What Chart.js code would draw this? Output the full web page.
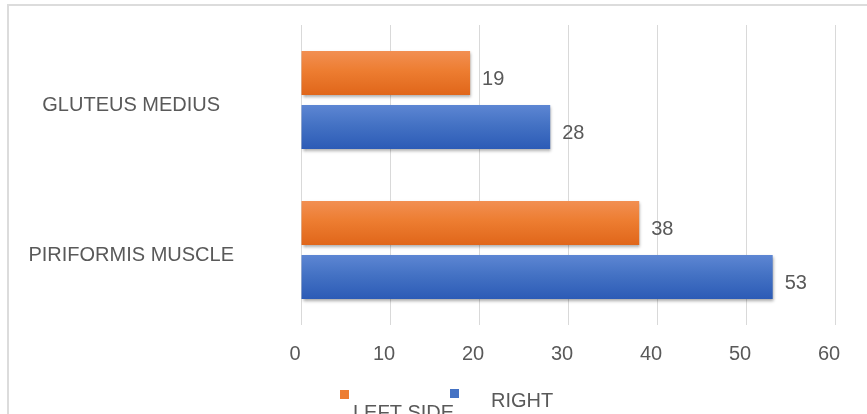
<!DOCTYPE html>
<html>
<head>
<meta charset="utf-8">
<title>Muscle chart</title>
<script src="https://cdn.jsdelivr.net/npm/chart.js@4/dist/chart.umd.min.js"></script>
<style>
    html, body { margin: 0; padding: 0; background: #fff; overflow: hidden; }
    #wrap { position: relative; width: 867px; height: 414px; }
</style>
</head>
<body>
<div id="wrap"><canvas id="muscleChart"></canvas></div>
<script>
const categories = ['GLUTEUS MEDIUS', 'PIRIFORMIS MUSCLE'];
const leftSide = [19, 38];
const rightSide = [28, 53];
const xTicks = [0, 10, 20, 30, 40, 50, 60];

const textColor = '#595959';
const fontFamily = '"Liberation Sans", Arial, sans-serif';

// top / bottom shades for the bar gradients
const shades = [
    ['#f28f52', '#e0661a'], // orange
    ['#5d86d3', '#2c5bb6']  // blue
];

// gradient fill + soft shadow on the bars
const barLook = {
    id: 'barLook',
    beforeDatasetDraw(chart, args) {
        const ctx = chart.ctx;
        const meta = args.meta;
        const base = meta.controller.getDataset().backgroundColor;
        meta.data.forEach(function (bar) {
            const top = bar.y - bar.height / 2;
            const g = ctx.createLinearGradient(0, top, 0, top + bar.height);
            g.addColorStop(0, shades[args.index][0]);
            g.addColorStop(0.45, base);
            g.addColorStop(1, shades[args.index][1]);
            // options can be shared between bars, so give each its own copy
            bar.options = Object.assign({}, bar.options, { backgroundColor: g });
        });
        ctx.save();
        ctx.shadowColor = 'rgba(0,0,0,0.35)';
        ctx.shadowBlur = 3;
        ctx.shadowOffsetX = 1;
        ctx.shadowOffsetY = 2;
    },
    afterDatasetDraw(chart) {
        chart.ctx.restore();
    }
};

// value labels at the end of each bar
const valueLabels = {
    id: 'valueLabels',
    afterDatasetsDraw(chart) {
        const ctx = chart.ctx;
        ctx.save();
        ctx.font = '20px ' + fontFamily;
        ctx.fillStyle = textColor;
        ctx.textAlign = 'left';
        ctx.textBaseline = 'middle';
        chart.data.datasets.forEach(function (ds, i) {
            chart.getDatasetMeta(i).data.forEach(function (bar, j) {
                ctx.fillText(String(ds.data[j]), bar.x + 12, bar.y + 6);
            });
        });
        ctx.restore();
    }
};

// frame lines and the legend under the axis
const frameAndLegend = {
    id: 'frameAndLegend',
    beforeDraw(chart) {
        const ctx = chart.ctx;
        ctx.save();
        ctx.fillStyle = '#dcdcdc';
        ctx.fillRect(7, 4, 2, chart.height);
        ctx.fillRect(7, 4, chart.width, 2);
        ctx.restore();
    },
    afterDraw(chart) {
        const ctx = chart.ctx;
        const ds = chart.data.datasets;
        ctx.save();
        ctx.font = '20px ' + fontFamily;
        ctx.textBaseline = 'middle';
        ctx.textAlign = 'left';

        ctx.fillStyle = ds[0].backgroundColor;
        ctx.fillRect(340, 390, 9, 9);
        ctx.fillStyle = textColor;
        ctx.fillText(ds[0].label, 353, 413);

        ctx.fillStyle = ds[1].backgroundColor;
        ctx.fillRect(450, 389, 9, 9);
        ctx.fillStyle = textColor;
        ctx.fillText(ds[1].label, 491, 401);
        ctx.restore();
    }
};

const ctx = document.getElementById('muscleChart').getContext('2d');

new Chart(ctx, {
    type: 'bar',
    data: {
        labels: categories,
        datasets: [
            {
                label: 'LEFT SIDE',
                data: leftSide,
                backgroundColor: '#ed7d31',
                barPercentage: 0.813,
                categoryPercentage: 0.72
            },
            {
                label: 'RIGHT',
                data: rightSide,
                backgroundColor: '#4472c4',
                barPercentage: 0.813,
                categoryPercentage: 0.72
            }
        ]
    },
    options: {
        indexAxis: 'y',
        responsive: true,
        maintainAspectRatio: false,
        animation: false,
        layout: {
            padding: { top: 25, right: 32, bottom: 31, left: 11 }
        },
        plugins: {
            legend: { display: false },
            tooltip: { enabled: false }
        },
        scales: {
            x: {
                min: xTicks[0],
                max: xTicks[xTicks.length - 1],
                afterBuildTicks(scale) {
                    scale.ticks = xTicks.map(v => ({ value: v }));
                },
                grid: {
                    color: '#d9d9d9',
                    lineWidth: 1,
                    drawTicks: false
                },
                border: { display: false },
                ticks: {
                    color: textColor,
                    font: { family: fontFamily, size: 20 },
                    padding: 17,
                    labelOffset: -6,
                    maxRotation: 0
                }
            },
            y: {
                afterFit(scale) {
                    scale.width = 290;
                },
                // invisible tick marks push the centred labels away from the bars
                grid: {
                    color: 'rgba(0,0,0,0)',
                    drawOnChartArea: false,
                    drawTicks: true,
                    tickLength: 67
                },
                border: { display: false },
                ticks: {
                    color: textColor,
                    font: { family: fontFamily, size: 20 },
                    crossAlign: 'center',
                    padding: 0,
                    labelOffset: 5
                }
            }
        }
    },
    plugins: [frameAndLegend, barLook, valueLabels]
});
</script>
</body>
</html>
